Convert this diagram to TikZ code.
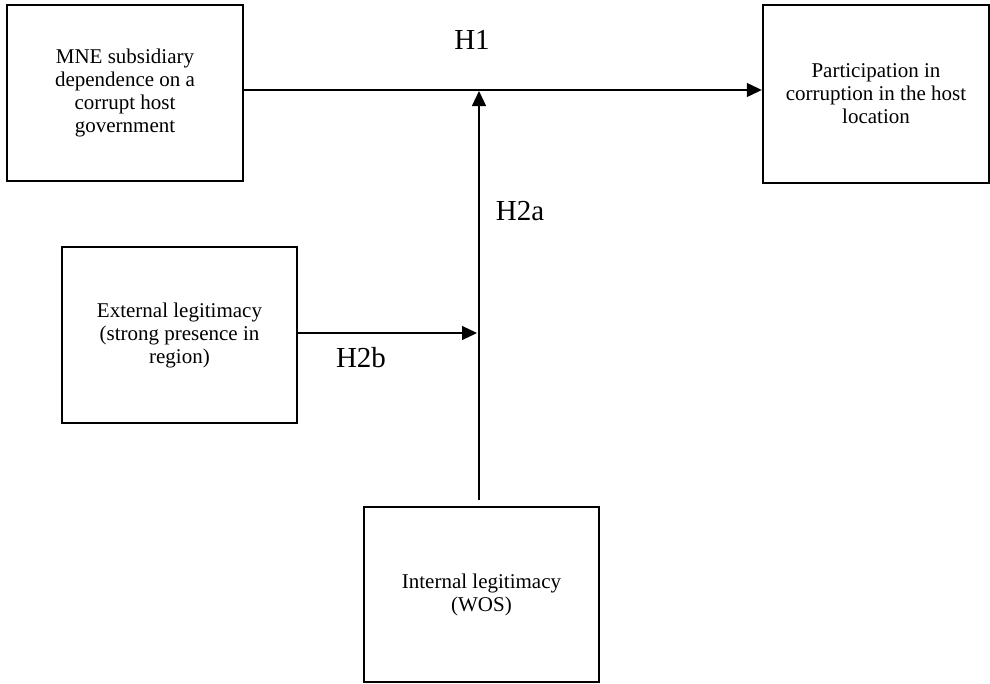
\documentclass[tikz,border=0pt]{standalone}
\usepackage{fontspec}
\setmainfont{Liberation Serif}
\usetikzlibrary{arrows.meta}
\begin{document}
\begin{tikzpicture}[x=1pt,y=-1pt,
  boxnode/.style={draw=black,line width=2.4pt,fill=white,minimum width=#1,align=center,
    font=\fontsize{21}{23}\selectfont,inner sep=0pt},
  hlabel/.style={font=\fontsize{29}{32}\selectfont,inner sep=0pt},
  conn/.style={line width=1.2pt,-{Triangle[length=15pt,width=14pt]}}]
\useasboundingbox (0,0) rectangle (990,683);
\node[boxnode=236pt,minimum height=176pt] (A) at (125,93) {MNE subsidiary\\dependence on a\\corrupt host\\government};
\node[boxnode=226pt,minimum height=178pt] (B) at (876,94) {Participation in\\corruption in the host\\location};
\node[boxnode=235pt,minimum height=176pt] (C) at (179.5,335) {External legitimacy\\(strong presence in\\region)};
\node[boxnode=235pt,minimum height=175pt] (D) at (481.5,594.5) {Internal legitimacy\\(WOS)};
\coordinate (J) at (479,90);
\coordinate (K) at (479,333);
\coordinate (S) at (479,500);
\draw[conn] (A.east |- J) -- (B.west |- J);
\draw[conn] (S) -- ([yshift=-1pt]J);
\draw[conn] (C.east |- K) -- ([xshift=-2pt]K);
\node[hlabel] (H1) at (472,40) {H1};
\node[hlabel] (H2a) at (520,211) {H2a};
\node[hlabel] (H2b) at (361,358) {H2b};
\end{tikzpicture}
\end{document}
